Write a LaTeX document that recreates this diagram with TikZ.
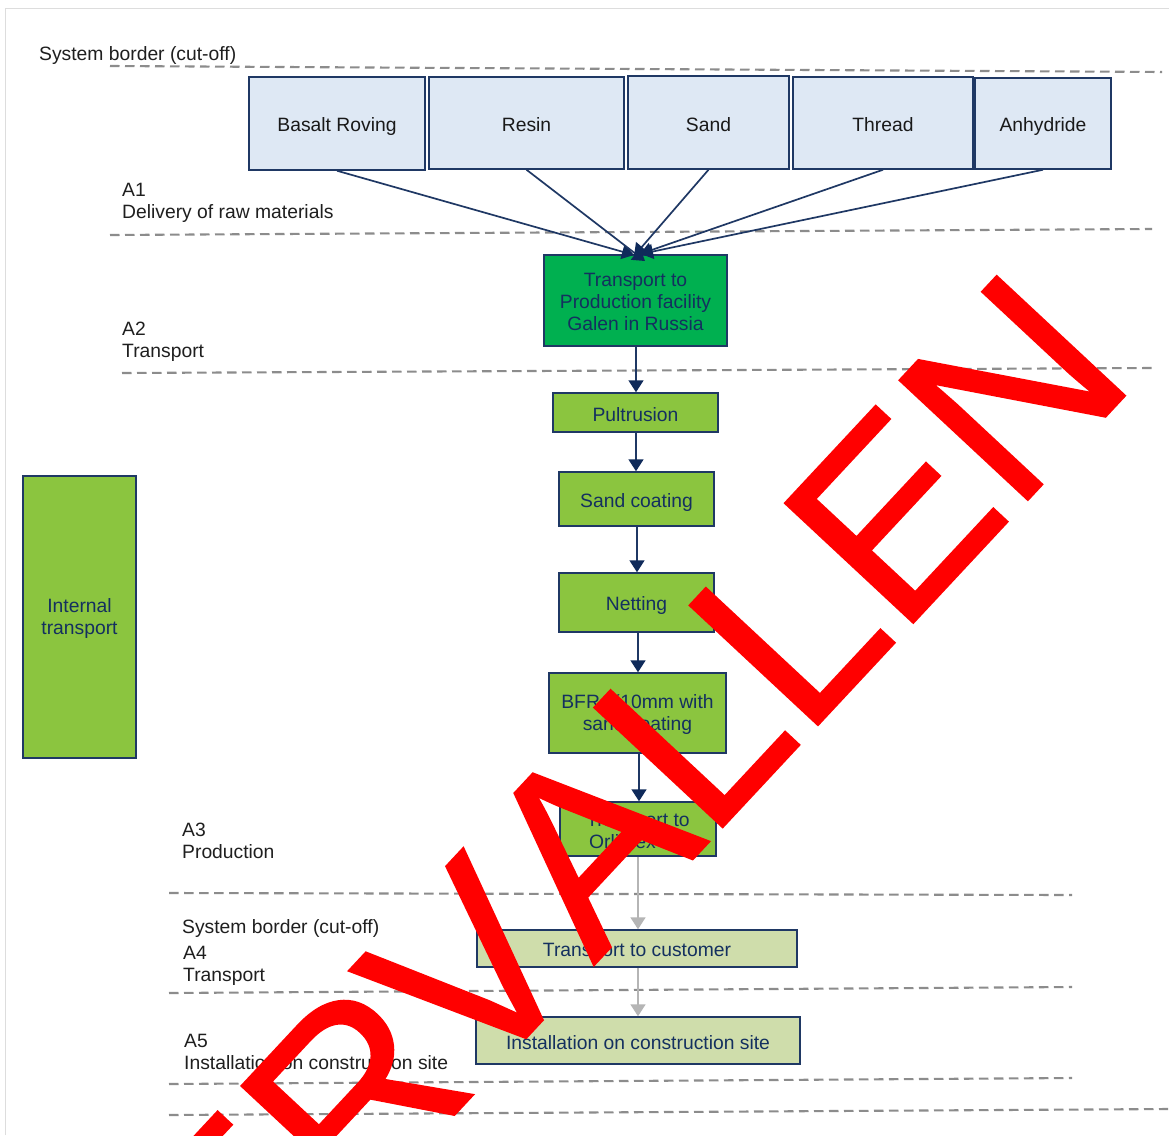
\documentclass[tikz,border=0pt]{standalone}
\usepackage{fontspec}
\setmainfont{Liberation Sans}
\newfontfamily\stampfont[FakeBold=0.8,LetterSpace=-0.8]{Liberation Sans}
\usetikzlibrary{arrows.meta}
\definecolor{navy}{HTML}{1F3864}
\definecolor{tipnavy}{HTML}{0F2A5A}
\definecolor{txtnavy}{HTML}{14305F}
\definecolor{lightblue}{HTML}{DEE8F4}
\definecolor{dgreen}{HTML}{00B050}
\definecolor{lgreen}{HTML}{8BC53F}
\definecolor{pgreen}{HTML}{CFDDAB}
\definecolor{dashgray}{HTML}{8C8C8C}
\definecolor{arrowgray}{HTML}{B5B5B5}
\definecolor{framegray}{HTML}{DDDDDD}
\tikzset{
  boxbase/.style={draw=navy,line width=1.5pt,inner sep=0pt,align=center,text=txtnavy,font=\fontsize{19.3}{22}\selectfont,
    execute at begin node={\rule{0pt}{1.05em}},execute at end node={\rule[-.15em]{0pt}{.15em}}},
  boxtext/.style={inner sep=0pt,align=center,text=txtnavy,font=\fontsize{19.3}{22}\selectfont,yshift=-1.5pt},
  rawbox/.style={boxbase,fill=lightblue,text=black!90},
  darkbox/.style={boxbase,fill=dgreen},
  greenbox/.style={boxbase,fill=lgreen},
  palebox/.style={boxbase,fill=pgreen},
  borderline/.style={draw=dashgray,line width=2.1pt,dash pattern=on 9.5pt off 5.5pt},
  lbl/.style={anchor=west,inner sep=0pt,align=left,text=black!88,font=\fontsize{19.3}{21.8}\selectfont},
  flow/.style={draw=navy,line width=1.7pt,-{Triangle[length=12pt,width=15pt,color=tipnavy]}},
  greyflow/.style={draw=arrowgray,line width=1.7pt,-{Triangle[length=12pt,width=15pt]}},
  stamp/.style={anchor=base west,inner sep=0pt,rotate=47,text=red,font=\stampfont\fontsize{255}{255}\selectfont}
}
\newcommand{\boxat}[6]{\node[#1,minimum width=#4pt-#3pt,minimum height=#6pt-#5pt] (#2) at ({(#3+#4)/2},{(#5+#6)/2})}
\begin{document}
\begin{tikzpicture}[x=1pt,y=-1pt]
\useasboundingbox (0,0) rectangle (1169,1135);
\fill[white] (0,0) rectangle (1169,1135);
\draw[framegray,line width=1pt] (5,1135) -- (5,8) -- (1169,8);
% border lines
\coordinate (b1a) at (110,66);   \coordinate (b1b) at (1162,72);
\coordinate (b2a) at (110,235);  \coordinate (b2b) at (1152,229);
\coordinate (b3a) at (122,373);  \coordinate (b3b) at (1152,368);
\coordinate (b4a) at (169,893);  \coordinate (b4b) at (1072,895);
\coordinate (b5a) at (169,993);  \coordinate (b5b) at (1072,987);
\coordinate (b6a) at (169,1084); \coordinate (b6b) at (1072,1078);
\coordinate (b7a) at (169,1115); \coordinate (b7b) at (1168,1109);
\foreach \n in {1,...,7}{\draw[borderline] (b\n a) -- (b\n b);}
% labels
\node[lbl] (sb1) at (39,56) {System border (cut-off)};
\node[lbl] (a1) at (122,203) {A1\\Delivery of raw materials};
\node[lbl] (a2) at (122,342) {A2\\Transport};
\node[lbl] (a3) at (182,841) {A3\\Production};
\node[lbl] (sb2) at (182,928) {System border (cut-off)};
\node[lbl] (a4) at (183,965.5) {A4\\Transport};
\node[lbl] (a5) at (184,1052) {A5\\Installation on construction site};
% boxes
\boxat{rawbox}{basalt}{249}{425}{77}{170} {Basalt Roving};
\boxat{rawbox}{resin}{429}{624}{77}{169} {Resin};
\boxat{rawbox}{sand}{628}{789}{76}{169} {Sand};
\boxat{rawbox}{thread}{793}{973}{77}{169} {Thread};
\boxat{rawbox}{anhyd}{975}{1111}{78}{169} {Anhydride};
\boxat{darkbox,label={[boxtext]center:Transport to\\Production facility\\Galen in Russia}}{trans}{544}{727}{255}{346} {};
\boxat{greenbox}{pult}{553}{718}{393}{432} {Pultrusion};
\boxat{greenbox}{coat}{559}{714}{472}{526} {Sand coating};
\boxat{greenbox}{net}{559}{714}{573}{632} {Netting};
\boxat{greenbox,label={[boxtext]center:BFR Ø10mm with\\sand coating}}{bfr}{549}{726}{673}{753} {};
\boxat{greenbox,label={[boxtext]center:Transport to\\Orlimex CZ}}{orli}{560}{716}{802}{856} {};
\boxat{greenbox,label={[boxtext]center:Internal\\transport}}{intern}{23}{136}{476}{758} {};
\boxat{palebox}{cust}{477}{797}{930}{967} {Transport to customer};
\boxat{palebox}{inst}{476}{800}{1017}{1064} {Installation on construction site};
% connectors
\coordinate (e1) at (634,255);
\coordinate (e2) at (645,261);
\coordinate (e3) at (634,256);
\coordinate (e4) at (640,254);
\coordinate (e5) at (641,254);
\draw[flow] (basalt.south) -- (e1);
\draw[flow] (resin.south) -- (e2);
\draw[flow] (sand.south) -- (e3);
\draw[flow] (thread.south) -- (e4);
\draw[flow] (anhyd.south) -- (e5);
\draw[flow] ([xshift=.5pt]trans.south) -- ([xshift=.5pt]pult.north);
\draw[flow] ([xshift=.5pt]pult.south) -- ([xshift=-.5pt]coat.north);
\draw[flow] ([xshift=.5pt]coat.south) -- ([xshift=.5pt]net.north);
\draw[flow] ([xshift=1.5pt]net.south) -- ([xshift=.5pt]bfr.north);
\draw[flow] ([xshift=1.5pt]bfr.south) -- ([xshift=1pt]orli.north);
\draw[greyflow] (orli.south) -- ([xshift=1pt]cust.north);
\draw[greyflow] ([xshift=1pt]cust.south) -- (inst.north);
% stamp across the sheet
\begin{scope}
\clip (0,0) rectangle (1169,1135);
\node[stamp] (stamptext) at (126,1467) {VERV\kern.008em ALLEN};
\end{scope}
\end{tikzpicture}
\end{document}
